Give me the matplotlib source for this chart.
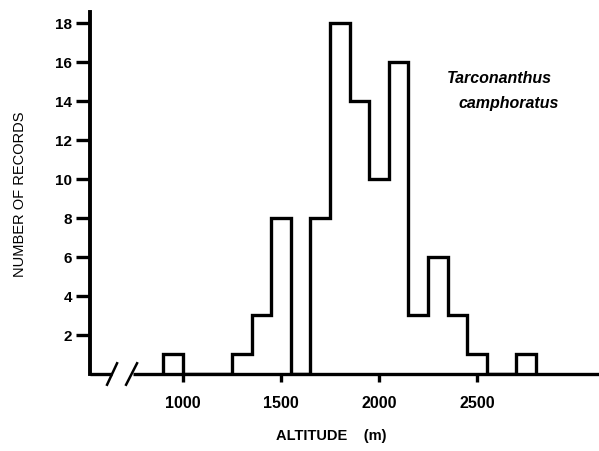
import numpy as np
import matplotlib.pyplot as plt

# bin edges (m) and counts
edges = [900, 1000, 1250, 1350, 1450, 1550, 1650, 1750, 1850, 1950,
         2050, 2150, 2250, 2350, 2450, 2550, 2700, 2800]
counts = [1, 0, 1, 3, 8, 0, 8, 18, 14, 10, 16, 3, 6, 3, 1, 0, 1]
xticks = [1000, 1500, 2000, 2500]
yticks = [2, 4, 6, 8, 10, 12, 14, 16, 18]

plt.rcParams['font.family'] = ['Liberation Sans', 'DejaVu Sans']

fig = plt.figure(figsize=(5.99, 4.52), dpi=100)
ax = fig.add_axes([90/599, 77/452, 509/599, 362/452])
ax.set_xlim(526, 3122)
ax.set_ylim(0, 18.55)

lw = 2.4
ax.stairs(counts, edges, baseline=0, color='black', linewidth=lw, fill=False)

for s in ['top', 'right', 'bottom']:
    ax.spines[s].set_visible(False)
ax.spines['left'].set_linewidth(2.8)

# broken x axis
ax.plot([526, 640], [0, 0], color='black', lw=lw, clip_on=False, solid_capstyle='butt')
ax.plot([745, 3122], [0, 0], color='black', lw=lw, clip_on=False, solid_capstyle='butt')
ax.plot([613, 664], [-0.55, 0.55], color='black', lw=1.8, clip_on=False)
ax.plot([710, 766], [-0.55, 0.55], color='black', lw=1.8, clip_on=False)

ax.set_xticks(xticks)
ax.set_xticklabels([str(v) for v in xticks], fontsize=11.5, fontweight='bold')
ax.set_yticks(yticks)
ax.set_yticklabels([str(v) for v in yticks], fontsize=11, fontweight='bold')
ax.tick_params(axis='x', direction='out', length=6, width=lw, pad=9)
ax.tick_params(axis='y', direction='out', length=10, width=lw, pad=3)

ax.set_xlabel('ALTITUDE    (m)', fontsize=10.5, fontweight='bold', labelpad=13)
ax.xaxis.label.set_x(0.473)
ax.set_ylabel('NUMBER OF RECORDS', fontsize=10.5, labelpad=20)

ax.text(0.805, 0.82, 'Tarconanthus', transform=ax.transAxes, fontsize=11.5,
        fontstyle='italic', fontweight='bold', ha='center', va='center')
ax.text(0.823, 0.751, 'camphoratus', transform=ax.transAxes, fontsize=11.5,
        fontstyle='italic', fontweight='bold', ha='center', va='center')

fig.savefig('out.png', dpi=100)
